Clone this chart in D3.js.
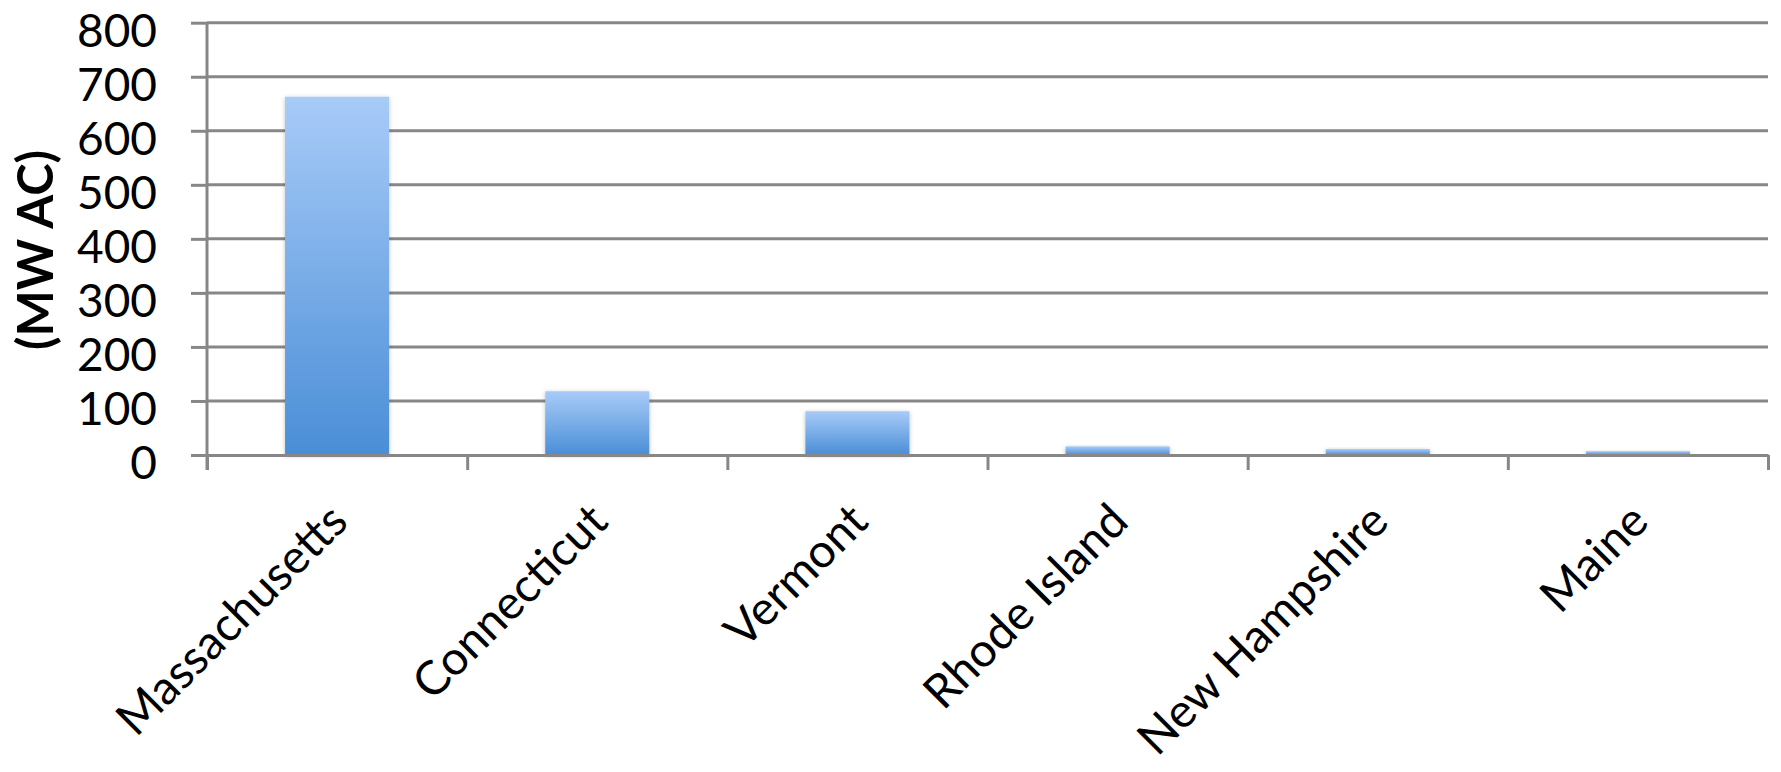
<!DOCTYPE html>
<html>
<head>
<meta charset="utf-8">
<script src="https://cdn.jsdelivr.net/npm/d3@7"></script>
<style>
  html, body { margin: 0; padding: 0; background: #fff; }
  svg text { font-family: Lato, "Open Sans", sans-serif; fill: #000; }
</style>
</head>
<body>
<svg id="chart" width="1781" height="772"></svg>
<script>
// data
const states = ['Massachusetts', 'Connecticut', 'Vermont', 'Rhode Island', 'New Hampshire', 'Maine']
const capacity = [663, 118, 81, 16, 11, 7]
const yTicks = [0, 100, 200, 300, 400, 500, 600, 700, 800]
const yTitle = '(MW AC)'

const frame = { left: 207, right: 1768, top: 22.7, bottom: 455 }
const gridColor = '#878787'

const svg = d3.select('#chart')

const defs = svg.append('defs')
const grad = defs.append('linearGradient')
    .attr('id', 'barFill')
    .attr('x1', 0).attr('y1', 0).attr('x2', 0).attr('y2', 1)
grad.append('stop').attr('offset', '0%').attr('stop-color', '#a8cbf8')
grad.append('stop').attr('offset', '100%').attr('stop-color', '#4a8ed7')

defs.append('filter')
    .attr('id', 'shadow')
    .attr('x', '-20%').attr('y', '-20%').attr('width', '140%').attr('height', '140%')
  .append('feDropShadow')
    .attr('dx', 0).attr('dy', 1)
    .attr('stdDeviation', 2)
    .attr('flood-color', '#000')
    .attr('flood-opacity', 0.25)

const x = d3.scaleBand()
    .domain(states)
    .range([frame.left, frame.right])
    .padding(0)

const y = d3.scaleLinear()
    .domain([0, 800])
    .range([frame.bottom, frame.top])

// horizontal grid
svg.append('g')
    .attr('class', 'grid')
  .selectAll('line')
  .data(yTicks.filter(d => d > 0))
  .enter().append('line')
    .attr('x1', frame.left)
    .attr('x2', frame.right)
    .attr('y1', d => y(d))
    .attr('y2', d => y(d))
    .attr('stroke', gridColor)
    .attr('stroke-width', 3)

// y axis
const yAxis = svg.append('g')
    .attr('transform', `translate(${frame.left},0)`)
    .call(d3.axisLeft(y).tickValues(yTicks).tickSizeInner(16).tickSizeOuter(0).tickPadding(34))
yAxis.select('.domain')
    .attr('stroke', gridColor)
    .attr('stroke-width', 3)
    .attr('d', `M0,${frame.top}V${frame.bottom + 15}`)
yAxis.selectAll('.tick line')
    .attr('stroke', gridColor)
    .attr('stroke-width', 3)
yAxis.selectAll('.tick text')
    .attr('dy', '0.52em')
    .style('font-size', '46px')

// bars
const barW = x.bandwidth() * 0.4
svg.append('g')
  .selectAll('rect')
  .data(states)
  .enter().append('rect')
    .attr('x', d => x(d) + (x.bandwidth() - barW) / 2)
    .attr('width', barW)
    .attr('y', (d, i) => y(capacity[i]))
    .attr('height', (d, i) => y(0) - y(capacity[i]))
    .attr('fill', 'url(#barFill)')
    .attr('filter', 'url(#shadow)')

// x axis: baseline with ticks on category boundaries
const bounds = d3.scaleLinear().domain([0, states.length]).range([frame.left, frame.right])
const xAxis = svg.append('g')
    .attr('transform', `translate(0,${frame.bottom})`)
    .call(d3.axisBottom(bounds).tickValues(d3.range(states.length + 1)).tickSizeInner(15).tickSizeOuter(0).tickFormat(''))
xAxis.select('.domain').attr('stroke', gridColor).attr('stroke-width', 3)
xAxis.selectAll('.tick line').attr('stroke', gridColor).attr('stroke-width', 3)

// rotated category labels
const labels = svg.append('g')
    .attr('transform', `translate(0,${frame.bottom})`)
    .call(d3.axisBottom(x).tickSize(0))
labels.select('.domain').remove()
labels.selectAll('.tick text')
    .attr('text-anchor', 'end')
    .attr('x', 0).attr('y', 0).attr('dy', 0)
    .attr('transform', 'translate(13,69) rotate(-45)')
    .style('font-size', '47px')

// y title
svg.append('text')
    .attr('transform', `translate(53,250) rotate(-90)`)
    .attr('text-anchor', 'middle')
    .style('font-size', '49px')
    .style('font-weight', 'bold')
    .text(yTitle)
</script>
</body>
</html>
